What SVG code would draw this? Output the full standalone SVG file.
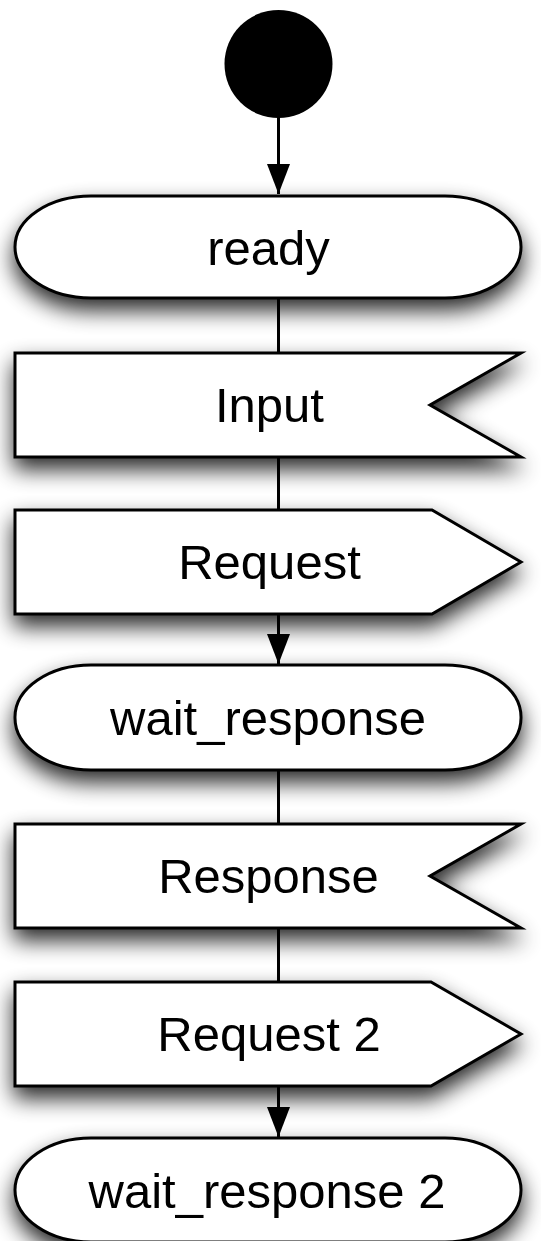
<svg xmlns="http://www.w3.org/2000/svg" width="541" height="1241" viewBox="0 0 541 1241">
<style>
.shape{fill:#fff;stroke:#000;stroke-width:3;stroke-linejoin:miter}
.lbl{font-family:"Liberation Sans",Arial,Helvetica,sans-serif;font-size:49px;fill:#000;text-anchor:middle}
.conn{stroke:#000;stroke-width:3;fill:none}
</style>
<defs>
<filter id="sh" x="-20%" y="-50%" width="140%" height="220%">
<feGaussianBlur in="SourceAlpha" stdDeviation="11"/>
<feOffset dx="0" dy="11" result="b"/>
<feComponentTransfer><feFuncA type="linear" slope="0.85"/></feComponentTransfer>
<feMerge><feMergeNode/><feMergeNode in="SourceGraphic"/></feMerge>
</filter>
<marker id="ah" viewBox="0 0 30 23" refX="30" refY="11.5" markerWidth="30" markerHeight="23" markerUnits="userSpaceOnUse" orient="auto">
<path d="M0,0 L30,11.5 L0,23 z" fill="#000"/>
</marker>
</defs>
<rect width="541" height="1241" fill="#fff"/>
<g id="connectors">
<line class="conn" x1="278.5" y1="116" x2="278.5" y2="194" marker-end="url(#ah)"/>
<line class="conn" x1="278.5" y1="298" x2="278.5" y2="353"/>
<line class="conn" x1="278.5" y1="457" x2="278.5" y2="510"/>
<line class="conn" x1="278.5" y1="614" x2="278.5" y2="664" marker-end="url(#ah)"/>
<line class="conn" x1="278.5" y1="770" x2="278.5" y2="824"/>
<line class="conn" x1="278.5" y1="928" x2="278.5" y2="982"/>
<line class="conn" x1="278.5" y1="1086" x2="278.5" y2="1137" marker-end="url(#ah)"/>
</g>
<g id="start">
<circle cx="278.5" cy="64" r="54" fill="#000"/>
</g>
<g id="ready" filter="url(#sh)">
<rect class="shape" x="15" y="196" width="506" height="102" rx="76" ry="51"/>
<text class="lbl" x="268.5" y="265">ready</text>
</g>
<g id="input" filter="url(#sh)">
<path class="shape" d="M15,353 H521 L430,405 L521,457 H15 Z"/>
<text class="lbl" x="269.5" y="422">Input</text>
</g>
<g id="request" filter="url(#sh)">
<path class="shape" d="M15,510 H432 L521,562 L432,614 H15 Z"/>
<text class="lbl" x="269.5" y="579">Request</text>
</g>
<g id="wait_response" filter="url(#sh)">
<rect class="shape" x="15" y="665" width="506" height="105" rx="76" ry="52"/>
<text class="lbl" x="268" y="735">wait_response</text>
</g>
<g id="response" filter="url(#sh)">
<path class="shape" d="M15,824 H521 L430,876 L521,928 H15 Z"/>
<text class="lbl" x="268.5" y="893">Response</text>
</g>
<g id="request2" filter="url(#sh)">
<path class="shape" d="M15,982 H431 L521,1034 L431,1086 H15 Z"/>
<text class="lbl" x="269" y="1051">Request 2</text>
</g>
<g id="wait_response2" filter="url(#sh)">
<rect class="shape" x="15" y="1138" width="506" height="104" rx="76" ry="52"/>
<text class="lbl" x="267" y="1208">wait_response 2</text>
</g>
</svg>
